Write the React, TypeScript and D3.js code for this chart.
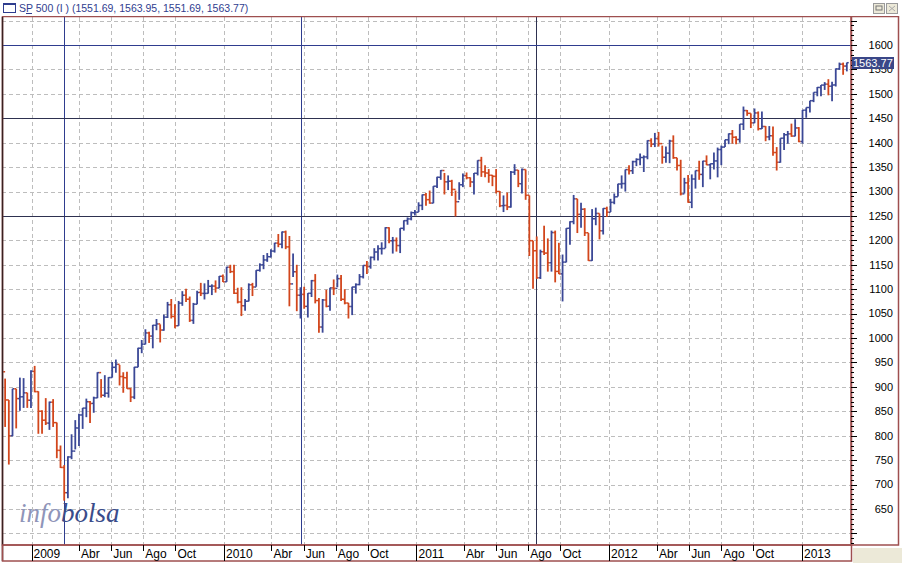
import React, { useEffect, useRef } from "react";
import * as d3 from "d3";

// weekly bars, first one is the week ending Fri 7 Nov 2008
const firstWeek = new Date(2008, 10, 7);
const firstOpen = 968.75;

// weekly closes
const closes = [
  // 2008 Nov-Dec
  930.99, 873.29, 800.03, 896.24, 876.07, 879.73, 887.88, 872.8,
  // 2009
  931.8, 890.35, 850.12, 831.95, 825.88, 868.6, 826.84, 770.05, 735.09, 683.38, 756.55, 768.54, 815.94,
  842.5, 856.56, 869.6, 866.23, 877.52, 929.23, 882.88, 887.0, 919.14, 940.09, 946.21, 921.23, 918.9,
  896.42, 879.13, 940.38, 979.26, 987.48, 1010.48, 1004.09, 1026.13, 1028.93, 1016.4, 1042.73, 1068.3, 1044.38,
  1025.21, 1071.49, 1087.68, 1079.6, 1036.19, 1069.3, 1093.48, 1091.38, 1091.49, 1105.98, 1106.41, 1102.47, 1126.48, 1115.1,
  // 2010
  1144.98, 1136.03, 1091.76, 1073.87, 1066.19, 1075.51, 1109.17, 1104.49, 1138.7, 1149.99, 1159.9, 1166.59,
  1178.1, 1194.37, 1192.13, 1217.28, 1186.69, 1110.88, 1135.68, 1087.69, 1089.41, 1064.88, 1091.6, 1117.51, 1076.76,
  1022.58, 1077.96, 1064.88, 1102.66, 1101.6, 1121.64, 1079.25, 1071.69, 1064.59, 1104.51, 1109.55, 1125.59, 1148.67,
  1146.24, 1165.15, 1176.19, 1183.08, 1183.26, 1225.85, 1199.21, 1199.73, 1189.4, 1224.71, 1240.4, 1243.91, 1256.77, 1257.64,
  // 2011
  1271.5, 1293.24, 1283.35, 1276.34, 1310.87, 1329.15, 1343.01, 1319.88, 1321.15, 1304.28, 1279.2, 1313.8,
  1332.41, 1328.17, 1319.68, 1337.38, 1363.61, 1340.2, 1337.77, 1333.27, 1331.1, 1300.16, 1270.98, 1271.5, 1268.45,
  1339.67, 1343.8, 1316.14, 1345.02, 1292.28, 1199.38, 1178.81, 1123.53, 1176.8, 1173.97, 1154.23, 1216.01, 1136.43, 1131.42,
  1155.46, 1224.58, 1238.25, 1285.09, 1253.23, 1263.85, 1215.65, 1158.67, 1244.28, 1255.19, 1219.66, 1265.33, 1257.6,
  // 2012
  1277.81, 1289.09, 1315.38, 1316.33, 1344.9, 1342.64, 1361.23, 1365.74, 1369.63, 1370.87, 1404.17, 1397.11, 1408.47,
  1398.08, 1370.26, 1378.53, 1403.36, 1369.1, 1353.39, 1295.22, 1317.82, 1278.04, 1325.66, 1342.84, 1335.02, 1362.16,
  1354.68, 1356.78, 1362.66, 1385.97, 1390.99, 1405.87, 1418.16, 1411.13, 1406.58, 1437.92, 1465.77, 1460.15, 1440.67,
  1460.93, 1428.59, 1433.19, 1411.94, 1414.2, 1379.85, 1359.88, 1409.15, 1416.18, 1418.07, 1413.58, 1430.15, 1402.43,
  // 2013
  1466.47, 1472.05, 1485.98, 1502.96, 1513.17, 1517.93, 1519.79, 1515.6, 1518.2, 1551.18, 1560.7, 1556.89, 1563.77,
];

// weekly highs
const highs = [
  1007, 917, 873, 896, 896, 919, 918, 888,
  934, 943, 891, 852, 877, 870, 875, 827, 780, 740, 758, 803, 832,
  845, 857, 876, 871, 880, 930, 916, 924, 920, 951, 956, 945, 930,
  931, 898, 941, 980, 996, 1018, 1013, 1027, 1039, 1028, 1048, 1074, 1080,
  1069, 1076, 1096, 1101, 1085, 1072, 1097, 1113, 1112, 1119, 1110, 1118, 1127, 1130,
  1146, 1150, 1150, 1103, 1104, 1080, 1112, 1113, 1139, 1153, 1170, 1174,
  1182, 1195, 1213, 1218, 1220, 1209, 1173, 1150, 1104, 1105, 1092, 1119, 1131,
  1082, 1080, 1099, 1103, 1120, 1130, 1129, 1100, 1072, 1105, 1112, 1131, 1149,
  1158, 1167, 1184, 1190, 1196, 1227, 1227, 1207, 1206, 1225, 1241, 1247, 1259, 1262,
  1278, 1294, 1297, 1302, 1311, 1330, 1344, 1338, 1333, 1324, 1302, 1319,
  1337, 1339, 1329, 1338, 1364, 1371, 1354, 1346, 1334, 1346, 1301, 1292, 1298,
  1342, 1356, 1344, 1347, 1345, 1292, 1199, 1208, 1181, 1230, 1204, 1220, 1220, 1195,
  1171, 1225, 1239, 1293, 1285, 1277, 1266, 1215, 1264, 1267, 1255, 1266, 1269,
  1285, 1296, 1316, 1333, 1345, 1354, 1363, 1368, 1378, 1374, 1405, 1409, 1420,
  1422, 1394, 1392, 1406, 1415, 1369, 1365, 1328, 1334, 1335, 1343, 1363, 1363,
  1374, 1357, 1380, 1390, 1394, 1406, 1419, 1426, 1413, 1438, 1474, 1467, 1460,
  1470, 1464, 1464, 1434, 1434, 1433, 1391, 1409, 1420, 1424, 1439, 1448, 1432,
  1467, 1472, 1486, 1503, 1514, 1518, 1524, 1530, 1525, 1552, 1564, 1564, 1564,
];

// weekly lows
const lows = [
  899, 818, 741, 799, 815, 851, 857, 857,
  857, 889, 804, 804, 822, 812, 818, 754, 734, 667, 672, 752, 772,
  779, 814, 838, 826, 847, 877, 878, 879, 878, 919, 929, 903, 888,
  896, 869, 875, 940, 969, 987, 990, 979, 1016, 991, 1015, 1041, 1040,
  1020, 1025, 1066, 1074, 1033, 1029, 1069, 1086, 1079, 1091, 1088, 1093, 1102, 1115,
  1115, 1133, 1090, 1071, 1045, 1056, 1075, 1086, 1105, 1136, 1141, 1156,
  1165, 1175, 1186, 1184, 1182, 1065, 1125, 1055, 1040, 1060, 1042, 1084, 1071,
  1011, 1011, 1063, 1056, 1088, 1104, 1076, 1069, 1040, 1047, 1091, 1108, 1122,
  1131, 1142, 1159, 1159, 1171, 1184, 1194, 1173, 1177, 1174, 1220, 1232, 1241, 1251,
  1258, 1262, 1271, 1275, 1276, 1307, 1324, 1294, 1303, 1291, 1249, 1283,
  1309, 1325, 1309, 1294, 1333, 1330, 1329, 1318, 1311, 1296, 1268, 1258, 1262,
  1267, 1334, 1309, 1296, 1283, 1168, 1101, 1121, 1121, 1170, 1136, 1136, 1114, 1131,
  1075, 1155, 1191, 1233, 1215, 1226, 1209, 1158, 1158, 1231, 1202, 1212, 1248,
  1258, 1274, 1290, 1306, 1300, 1335, 1336, 1352, 1354, 1340, 1366, 1391, 1391,
  1392, 1357, 1359, 1358, 1367, 1343, 1292, 1296, 1277, 1266, 1306, 1324, 1309,
  1354, 1325, 1345, 1329, 1354, 1391, 1397, 1398, 1397, 1400, 1426, 1455, 1430,
  1440, 1425, 1428, 1403, 1405, 1373, 1343, 1359, 1385, 1398, 1412, 1413, 1401,
  1398, 1451, 1462, 1483, 1495, 1495, 1508, 1497, 1485, 1515, 1549, 1539, 1546,
];

const yearLabels = ["2009", "2010", "2011", "2012", "2013"];
const monthTicks = [3, 5, 7, 9];
const monthLabels = ["Abr", "Jun", "Ago", "Oct"];

// user drawn lines on the chart
const markerDates = [new Date(2009, 2, 4), new Date(2010, 4, 27), new Date(2011, 7, 15)];
const markerColors = ["#2f3d8f", "#2f3d8f", "#2e3150"];
const levelValues = [1600, 1450, 1250];
const levelColors = ["#2f3d8f", "#2e3150", "#2e3150"];

const titleText = "SP 500 (I ) (1551.69, 1563.95, 1551.69, 1563.77)";
const lastPrice = 1563.77;

const App: React.FC = () => {
  const ref = useRef<SVGSVGElement>(null);

  useEffect(() => {
    document.body.style.margin = "0";
    const width = 902,
      height = 563;
    const left = 2,
      right = 851,
      top = 17,
      bottom = 545;
    const frame = "#9e4f4f";

    const svg = d3.select(ref.current);
    svg.selectAll("*").remove();
    svg.attr("width", width).attr("height", height);

    svg.append("rect").attr("width", width).attr("height", height).attr("fill", "#ffffff");

    const x = d3
      .scaleTime()
      .domain([new Date(2009, 0, 1), new Date(2013, 0, 1)])
      .range([31.5, 802]);
    const y = d3.scaleLinear().domain([650, 1600]).range([509, 45]);

    // clip for the plot
    svg
      .append("clipPath")
      .attr("id", "plotClip")
      .append("rect")
      .attr("x", left)
      .attr("y", top)
      .attr("width", right - left)
      .attr("height", bottom - top);

    const plot = svg.append("g").attr("clip-path", "url(#plotClip)");

    // x tick dates
    const ticks: { date: Date; label: string; year: boolean }[] = [];
    yearLabels.forEach((yl, i) => {
      const yr = 2009 + i;
      ticks.push({ date: new Date(yr, 0, 1), label: yl, year: true });
      monthTicks.forEach((m, j) => {
        ticks.push({ date: new Date(yr, m, 1), label: monthLabels[j], year: false });
      });
    });
    const visTicks = ticks.filter((t) => x(t.date) < right - 5);

    // grid
    const yGrid = d3.range(600, 1700, 50);
    plot
      .selectAll(".hgrid")
      .data(yGrid)
      .enter()
      .append("line")
      .attr("x1", left)
      .attr("x2", right)
      .attr("y1", (d) => Math.round(y(d)) + 0.5)
      .attr("y2", (d) => Math.round(y(d)) + 0.5)
      .attr("stroke", "#bdbdbd")
      .attr("stroke-dasharray", "4,3");
    plot
      .selectAll(".vgrid")
      .data(visTicks)
      .enter()
      .append("line")
      .attr("x1", (d) => Math.round(x(d.date)) + 0.5)
      .attr("x2", (d) => Math.round(x(d.date)) + 0.5)
      .attr("y1", top)
      .attr("y2", bottom)
      .attr("stroke", "#bdbdbd")
      .attr("stroke-dasharray", "4,3");

    // marker lines
    plot
      .selectAll(".vmark")
      .data(markerDates)
      .enter()
      .append("line")
      .attr("x1", (d) => Math.round(x(d)) + 0.5)
      .attr("x2", (d) => Math.round(x(d)) + 0.5)
      .attr("y1", top)
      .attr("y2", bottom)
      .attr("stroke", (d, i) => markerColors[i])
      .attr("stroke-width", 1);
    plot
      .selectAll(".hmark")
      .data(levelValues)
      .enter()
      .append("line")
      .attr("x1", left)
      .attr("x2", right)
      .attr("y1", (d) => Math.round(y(d)) + 0.5)
      .attr("y2", (d) => Math.round(y(d)) + 0.5)
      .attr("stroke", (d, i) => levelColors[i])
      .attr("stroke-width", 1);

    // logo
    const logo = plot
      .append("text")
      .attr("x", 19)
      .attr("y", 522)
      .style("font-family", "'Liberation Serif', 'DejaVu Serif', serif")
      .style("font-style", "italic")
      .style("font-size", "27px");
    logo.append("tspan").attr("fill", "#8f95b9").text("info");
    logo.append("tspan").attr("fill", "#3a4c8a").text("bolsa");

    // OHLC bars
    const bars = closes.map((c, i) => ({
      date: d3.timeDay.offset(firstWeek, i * 7 - 2),
      open: i === 0 ? firstOpen : closes[i - 1],
      high: highs[i],
      low: lows[i],
      close: c,
    }));
    const bw = 1.9;
    const g = plot.selectAll(".bar").data(bars).enter().append("g");
    g.each(function (d) {
      const cx = x(d.date);
      const col = d.close >= d.open ? "#3b4896" : "#d2461c";
      const sel = d3.select(this);
      sel
        .append("line")
        .attr("x1", cx)
        .attr("x2", cx)
        .attr("y1", y(d.high))
        .attr("y2", y(d.low))
        .attr("stroke", col)
        .attr("stroke-width", 1.8);
      sel
        .append("line")
        .attr("x1", cx - bw)
        .attr("x2", cx)
        .attr("y1", y(d.open))
        .attr("y2", y(d.open))
        .attr("stroke", col)
        .attr("stroke-width", 1.5);
      sel
        .append("line")
        .attr("x1", cx)
        .attr("x2", cx + bw)
        .attr("y1", y(d.close))
        .attr("y2", y(d.close))
        .attr("stroke", col)
        .attr("stroke-width", 1.5);
    });

    // frames
    svg
      .append("rect")
      .attr("x", left + 0.5)
      .attr("y", top - 0.5)
      .attr("width", right - left)
      .attr("height", bottom - top + 0.5)
      .attr("fill", "none")
      .attr("stroke", frame)
      .attr("stroke-width", 1.5);
    svg
      .append("line")
      .attr("x1", left + 0.5)
      .attr("x2", left + 0.5)
      .attr("y1", top)
      .attr("y2", 561)
      .attr("stroke", "#3a2020")
      .attr("stroke-width", 1.5);
    svg
      .append("rect")
      .attr("x", right)
      .attr("y", top - 0.5)
      .attr("width", 47.5)
      .attr("height", bottom - top + 0.5)
      .attr("fill", "none")
      .attr("stroke", frame)
      .attr("stroke-width", 1.5);
    svg
      .append("rect")
      .attr("x", left + 0.5)
      .attr("y", bottom)
      .attr("width", right - left)
      .attr("height", 16)
      .attr("fill", "none")
      .attr("stroke", frame)
      .attr("stroke-width", 1.5);
    svg
      .append("rect")
      .attr("x", 853)
      .attr("y", 548)
      .attr("width", 49)
      .attr("height", 15)
      .attr("fill", "#ece9d8");

    // right axis
    const minor = d3.range(580, 1660, 10);
    svg
      .selectAll(".ytick")
      .data(minor)
      .enter()
      .append("line")
      .attr("x1", right)
      .attr("x2", (d) => (d % 50 === 0 ? right + 6 : right + 3))
      .attr("y1", (d) => Math.round(y(d)) + 0.5)
      .attr("y2", (d) => Math.round(y(d)) + 0.5)
      .attr("stroke", "#000");
    svg
      .selectAll(".ylab")
      .data(d3.range(650, 1650, 50))
      .enter()
      .append("text")
      .attr("x", 893)
      .attr("y", (d) => y(d))
      .attr("dy", "0.35em")
      .attr("text-anchor", "end")
      .style("font-family", "'Liberation Sans', Arial, sans-serif")
      .style("font-size", "11px")
      .attr("fill", "#000")
      .text((d) => d);

    // last price tag
    svg
      .append("rect")
      .attr("x", 852)
      .attr("y", Math.round(y(lastPrice)) - 6)
      .attr("width", 42)
      .attr("height", 12)
      .attr("fill", "#3a4788");
    svg
      .append("text")
      .attr("x", 853)
      .attr("y", y(lastPrice))
      .attr("dy", "0.36em")
      .style("font-family", "'Liberation Sans', Arial, sans-serif")
      .style("font-size", "11px")
      .attr("fill", "#fff")
      .text(lastPrice.toFixed(2));

    // bottom axis
    const xa = svg.append("g");
    xa.selectAll("line")
      .data(visTicks)
      .enter()
      .append("line")
      .attr("x1", (d) => Math.round(x(d.date)) + 0.5)
      .attr("x2", (d) => Math.round(x(d.date)) + 0.5)
      .attr("y1", bottom)
      .attr("y2", (d) => (d.year ? 561 : 551))
      .attr("stroke", "#000");
    xa.selectAll("text")
      .data(visTicks)
      .enter()
      .append("text")
      .attr("x", (d) => x(d.date) + 2)
      .attr("y", 558)
      .style("font-family", "'Liberation Sans', Arial, sans-serif")
      .style("font-size", "12px")
      .attr("fill", "#000")
      .text((d) => d.label);

    // title bar
    svg.append("rect").attr("x", 0).attr("y", 0).attr("width", width).attr("height", top - 1).attr("fill", "#fff");
    svg
      .append("rect")
      .attr("x", 3.5)
      .attr("y", 3.5)
      .attr("width", 12)
      .attr("height", 9)
      .attr("fill", "#fff")
      .attr("stroke", "#2f3d8f");
    svg.append("rect").attr("x", 3).attr("y", 3).attr("width", 13).attr("height", 2).attr("fill", "#2f3d8f");
    svg
      .append("text")
      .attr("x", 19)
      .attr("y", 12)
      .style("font-family", "'Liberation Sans', Arial, sans-serif")
      .style("font-size", "10.5px")
      .attr("fill", "#2f3d8f")
      .text(titleText);
    svg.append("line").attr("x1", 26).attr("x2", 32).attr("y1", 13.5).attr("y2", 13.5).attr("stroke", "#2f3d8f");

    // window buttons
    [873, 886].forEach((bx, i) => {
      svg
        .append("rect")
        .attr("x", bx + 0.5)
        .attr("y", 3.5)
        .attr("width", 11)
        .attr("height", 10)
        .attr("fill", "#ece9d8")
        .attr("stroke", "#9a9a9a");
      if (i === 0) {
        svg.append("rect").attr("x", bx + 3).attr("y", 6).attr("width", 6).attr("height", 4).attr("fill", "none").attr("stroke", "#777");
      } else {
        svg.append("path").attr("d", `M${bx + 3},6L${bx + 9},11M${bx + 9},6L${bx + 3},11`).attr("stroke", "#aaa");
      }
    });
  }, []);

  return <svg ref={ref} style={{ display: "block" }}></svg>;
};

export default App;
